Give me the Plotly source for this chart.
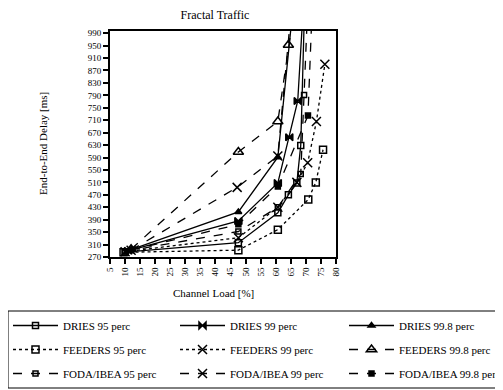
import plotly.graph_objects as go

# ---- data ----
dries95_x = [10, 47.6, 60.7, 64.2, 67.0, 68.3, 69.5]
dries95_y = [286, 316, 412, 470, 508, 629, 1050]

dries99_x = [11, 47.6, 60.7, 64.5, 67.3, 69.0]
dries99_y = [290, 386, 508, 655, 772, 1050]

dries998_x = [12, 47.6, 60.7, 65.5]
dries998_y = [294, 415, 591, 1050]

feeders95_x = [9.5, 47.6, 60.7, 70.8, 73.3, 75.7]
feeders95_y = [285, 292, 358, 455, 510, 615]

feeders99_x = [10, 47.6, 60.7, 67.0, 70.6, 73.5, 76.3]
feeders99_y = [287, 332, 430, 510, 573, 706, 890]

feeders998_x = [12, 47.6, 60.7, 64.2, 66.0]
feeders998_y = [295, 608, 706, 952, 1060]

foda95_x = [10, 47.6, 60.7, 68.3, 69.4, 70.5]
foda95_y = [288, 352, 430, 537, 791, 1050]

foda99_x = [12, 47.2, 60.7, 65.0]
foda99_y = [292, 494, 595, 1050]

foda998_x = [12, 47.6, 60.7, 70.7, 72.0]
foda998_y = [292, 375, 497, 725, 1050]

x_ticks = list(range(5, 81, 5))
y_ticks = list(range(270, 991, 40))

# (name, x, y, dash, marker, size, legend column)
series = [
    ("DRIES 95 perc", dries95_x, dries95_y, "solid", "square-open", 6, "legend"),
    ("DRIES 99 perc", dries99_x, dries99_y, "solid", "bowtie", 7, "legend2"),
    ("DRIES 99.8 perc", dries998_x, dries998_y, "solid", "triangle-up", 6, "legend3"),
    ("FEEDERS 95 perc", feeders95_x, feeders95_y, "dot", "square-open", 7, "legend"),
    ("FEEDERS 99 perc", feeders99_x, feeders99_y, "dot", "x-thin-open", 9, "legend2"),
    ("FEEDERS 99.8 perc", feeders998_x, feeders998_y, "dash", "triangle-up-open", 9, "legend3"),
    ("FODA/IBEA 95 perc", foda95_x, foda95_y, "dash", "square-open", 5, "legend"),
    ("FODA/IBEA 99 perc", foda99_x, foda99_y, "dash", "x-thin-open", 9, "legend2"),
    ("FODA/IBEA 99.8 perc", foda998_x, foda998_y, "dash", "square", 5, "legend3"),
]

fig = go.Figure()
for i, (name, xs, ys, dash, sym, size, leg) in enumerate(series):
    fig.add_trace(go.Scatter(
        x=xs, y=ys, name=name, mode="lines+markers",
        legend=leg, legendgroup="g%d" % i,
        line=dict(color="black", width=1.3, dash=dash),
        marker=dict(symbol=sym, size=size, color="black",
                    line=dict(color="black", width=1.5)),
    ))

serif = "Liberation Serif, Times New Roman, serif"
# the page body has an 8px margin, so the figure is drawn 8px in from the window edge
W, H = 495, 382
ML, MT, PW, PH = 102, 23, 226, 226
MR, MB = W - ML - PW, H - MT - PH
PB = MT + PH  # plot bottom in figure pixels

legend_common = dict(
    orientation="v", xref="container", yref="container",
    xanchor="left", y=1 - 303 / H, yanchor="top",
    bgcolor="rgba(0,0,0,0)", borderwidth=0,
    font=dict(family=serif, size=11, color="black"),
    itemwidth=45, tracegroupgap=5,
)

fig.update_layout(
    width=W, height=H,
    margin=dict(l=ML, r=MR, t=MT, b=MB, autoexpand=False),
    paper_bgcolor="white", plot_bgcolor="white",
    font=dict(family=serif, color="black", size=10),
    title=dict(text="Fractal Traffic", x=207 / W, xanchor="center", y=1 - 7 / H,
               yanchor="middle", font=dict(family=serif, size=12, color="black")),
    showlegend=True,
    legend=dict(legend_common, x=0.0),
    legend2=dict(legend_common, x=167 / W),
    legend3=dict(legend_common, x=336 / W),
    shapes=[dict(type="rect", xref="paper", yref="paper",
                 x0=-ML / PW, x1=(W - 1 - ML) / PW,
                 y0=(PB - 380) / PH, y1=(PB - 303) / PH,
                 line=dict(color="black", width=1), fillcolor="rgba(0,0,0,0)")],
    annotations=[
        dict(text="End-to-End Delay [ms]", xref="paper", yref="paper",
             x=(35 - ML) / PW, y=0.5, xanchor="center", yanchor="middle",
             textangle=-90, showarrow=False,
             font=dict(family=serif, size=11, color="black")),
        dict(text="Channel Load [%]", xref="paper", yref="paper",
             x=(205 - ML) / PW, y=(PB - 285) / PH, xanchor="center", yanchor="middle",
             showarrow=False, font=dict(family=serif, size=11, color="black")),
    ],
)

fig.update_xaxes(
    range=[5, 80], tickmode="array", tickvals=x_ticks,
    ticktext=[str(v) for v in x_ticks], tickangle=-90,
    ticks="outside", ticklen=5, tickwidth=2, tickcolor="black",
    showline=True, linecolor="black", linewidth=2, mirror=True,
    showgrid=False, zeroline=False,
    tickfont=dict(family=serif, size=9, color="black"),
)
fig.update_yaxes(
    range=[270, 997], tickmode="array", tickvals=y_ticks,
    ticks="outside", ticklen=5, tickwidth=2, tickcolor="black",
    showline=True, linecolor="black", linewidth=2, mirror=True,
    showgrid=False, zeroline=False,
    tickfont=dict(family=serif, size=9, color="black"),
)

fig.write_html("out.html")
